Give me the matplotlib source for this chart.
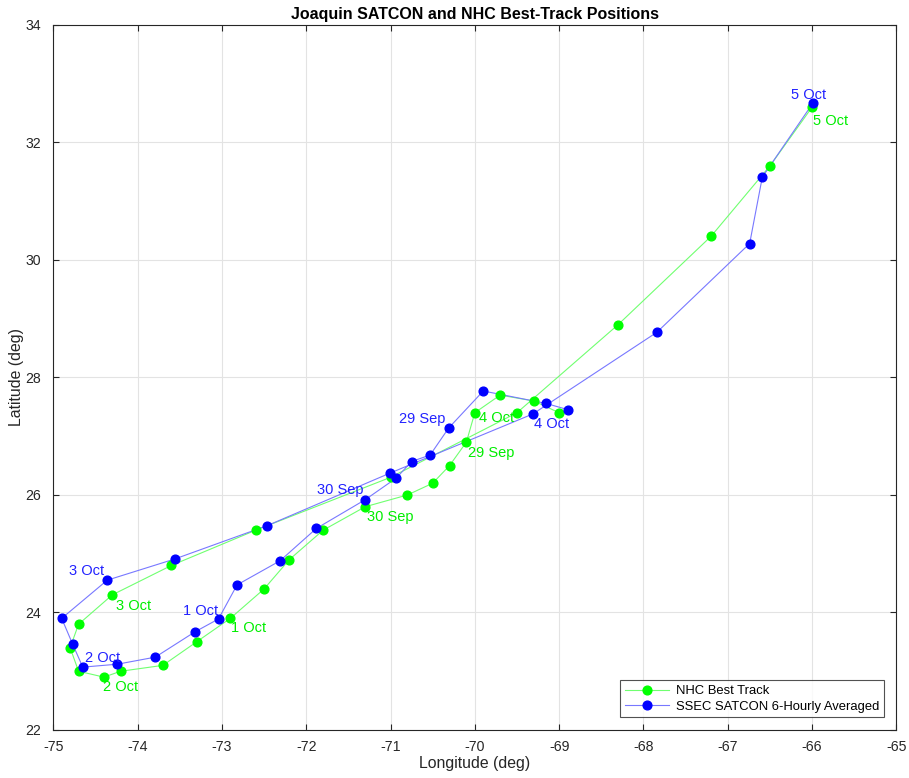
import matplotlib
matplotlib.use("Agg")
import matplotlib.pyplot as plt

plt.rcParams['font.family'] = ['Liberation Sans', 'DejaVu Sans']
plt.rcParams['axes.unicode_minus'] = False

# NHC best track (6-hourly)
nhc_lon = [-69.0, -69.3, -69.7, -70.0, -70.1, -70.3, -70.5, -70.8, -71.3, -71.8,
           -72.2, -72.5, -72.9, -73.3, -73.7, -74.2, -74.4, -74.7, -74.8, -74.7,
           -74.3, -73.6, -72.6, -71.0, -69.5, -68.3, -67.2, -66.5, -66.0]
nhc_lat = [27.4, 27.6, 27.7, 27.4, 26.9, 26.5, 26.2, 26.0, 25.8, 25.4,
           24.9, 24.4, 23.9, 23.5, 23.1, 23.0, 22.9, 23.0, 23.4, 23.8,
           24.3, 24.8, 25.4, 26.3, 27.4, 28.9, 30.4, 31.6, 32.6]

# SSEC SATCON 6-hourly averaged positions
sat_lon = [-68.89, -69.16, -69.90, -70.31, -70.53, -70.75, -70.93, -71.30, -71.88,
           -72.31, -72.82, -73.04, -73.32, -73.79, -74.24, -74.65, -74.77, -74.90,
           -74.36, -73.56, -72.46, -71.01, -69.31, -67.84, -66.74, -66.59, -65.99]
sat_lat = [27.45, 27.56, 27.77, 27.14, 26.68, 26.57, 26.29, 25.92, 25.43,
           24.88, 24.47, 23.89, 23.67, 23.24, 23.12, 23.07, 23.46, 23.90,
           24.55, 24.91, 25.48, 26.37, 27.38, 28.77, 30.28, 31.41, 32.67]

# date labels: (text, point index)
nhc_labels = ["29 Sep", "30 Sep", "1 Oct", "2 Oct", "3 Oct", "4 Oct", "5 Oct"]
nhc_label_idx = [4, 8, 12, 16, 20, 3, 28]
sat_labels = ["29 Sep", "30 Sep", "1 Oct", "2 Oct", "3 Oct", "4 Oct", "5 Oct"]
sat_label_idx = [3, 7, 11, 14, 18, 22, 26]

# label placement offsets in pixels (dx, dy) and alignment
nhc_off = [(2, -11), (2, -10), (1, -9.5), (-1, -10), (4, -11), (4.5, -5.5), (1, -14)]
sat_off = [(-3, 9), (-2, 9.5), (0, 8), (3, 6.5), (-3, 9.5), (1.5, -10.5), (13, 8)]
sat_ha = ['right', 'right', 'right', 'right', 'right', 'left', 'right']

fig = plt.figure(figsize=(9.09, 7.78), dpi=100)
ax = fig.add_axes([0.0586, 0.0617, 0.9275, 0.9062])

green_line = '#70ff70'
blue_line = '#7878ff'
ax.plot(nhc_lon, nhc_lat, '-', color=green_line, lw=0.8, zorder=3)
ax.plot(sat_lon, sat_lat, '-', color=blue_line, lw=0.8, zorder=3)
ax.plot(nhc_lon, nhc_lat, 'o', color='#00ff00', ms=6.3, mec='#00ff00', zorder=4)
ax.plot(sat_lon, sat_lat, 'o', color='#0000ff', ms=6.3, mec='#0000ff', zorder=5)

# legend proxies
h1, = ax.plot([], [], '-o', color=green_line, mfc='#00ff00', mec='#00ff00', ms=6.3, lw=0.8,
              label='NHC Best Track')
h2, = ax.plot([], [], '-o', color=blue_line, mfc='#0000ff', mec='#0000ff', ms=6.3, lw=0.8,
              label='SSEC SATCON 6-Hourly Averaged')

for txt, i, (dx, dy) in zip(nhc_labels, nhc_label_idx, nhc_off):
    ax.annotate(txt, (nhc_lon[i], nhc_lat[i]), xytext=(dx, dy), textcoords='offset pixels',
                ha='left', va='center', color='#00ee00', fontsize=10.5, zorder=6)
for txt, i, (dx, dy), ha in zip(sat_labels, sat_label_idx, sat_off, sat_ha):
    ax.annotate(txt, (sat_lon[i], sat_lat[i]), xytext=(dx, dy), textcoords='offset pixels',
                ha=ha, va='center', color='#2222ff', fontsize=10.5, zorder=6)

ax.set_xlim(-75, -65)
ax.set_ylim(22, 34)
ax.set_xticks(range(-75, -64, 1))
ax.set_yticks(range(22, 35, 2))
ax.grid(True, color='#e3e3e3', lw=0.8)
ax.set_axisbelow(True)
ax.tick_params(direction='in', top=True, right=True, length=4, width=0.8,
               colors='#262626', labelsize=10.2)
ax.tick_params(axis='x', pad=7)
ax.tick_params(axis='y', pad=8.5)
for s in ax.spines.values():
    s.set_color('#262626')
    s.set_linewidth(0.8)

ax.set_xlabel('Longitude (deg)', fontsize=11.4, color='#262626', labelpad=2)
ax.set_ylabel('Latitude (deg)', fontsize=11.4, color='#262626', labelpad=1)
ax.set_title('Joaquin SATCON and NHC Best-Track Positions', fontsize=11.5,
             fontweight='bold', color='black', pad=4)

leg = ax.legend(handles=[h1, h2], loc='lower right', fontsize=9.4, frameon=True,
                fancybox=False, edgecolor='#262626', borderpad=0.35, handlelength=3.4,
                labelspacing=0.25, handletextpad=0.5, bbox_to_anchor=(0.9925, 0.009))
leg.get_frame().set_linewidth(0.8)

fig.savefig('out.png', dpi=100)
